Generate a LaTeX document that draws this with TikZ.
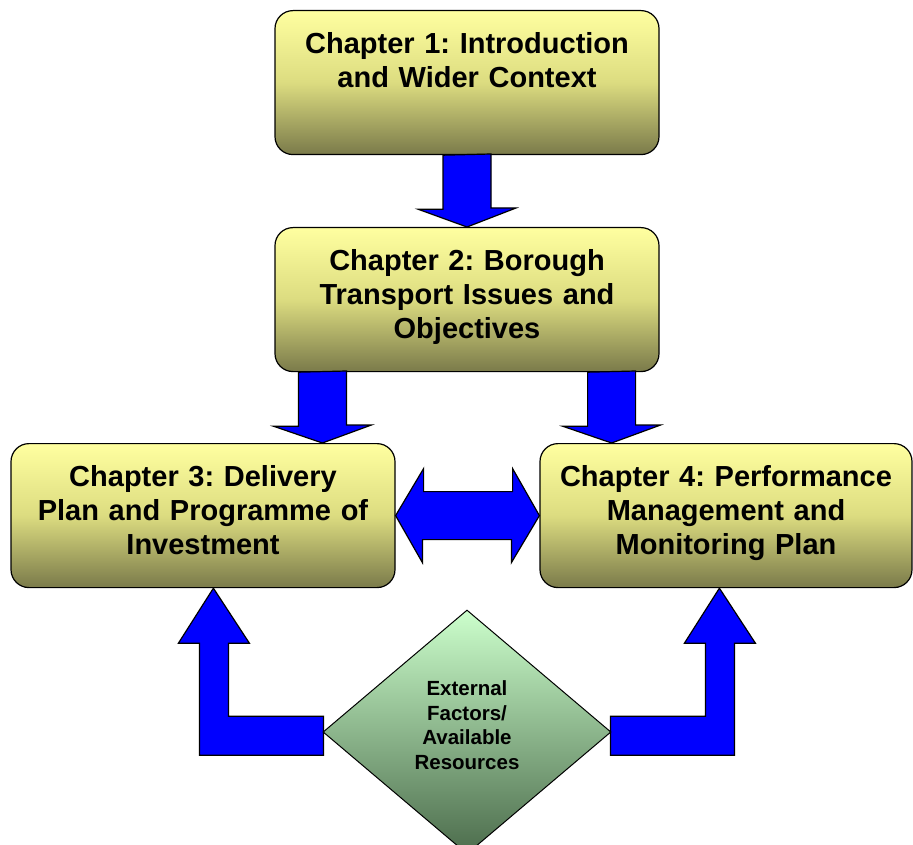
\documentclass[tikz,border=0pt]{standalone}
\usepackage{fontspec}
\setmainfont{Liberation Sans}
\usetikzlibrary{shapes.geometric,calc}
\definecolor{boxtop}{RGB}{255,255,160}
\definecolor{boxmid}{RGB}{220,220,128}
\definecolor{boxbot}{RGB}{122,122,74}
\definecolor{dgtop}{RGB}{204,255,204}
\definecolor{dgbot}{RGB}{76,108,76}
\frenchspacing
\begin{document}
\begin{tikzpicture}[x=1pt,y=-1pt,
        chapter/.style={draw=black,line width=1.2pt,rounded corners=18pt,
            top color=boxtop,bottom color=boxbot,middle color=boxmid,
            anchor=north,align=center,inner sep=0pt,
            text height=43pt,text depth=101pt,
            font=\fontsize{29}{34}\selectfont\bfseries},
        factor/.style={diamond,draw=black,line width=1pt,
            top color=dgtop,bottom color=dgbot,inner sep=0pt,
            minimum width=288pt,minimum height=244pt,align=center,
            text width=130pt,text height=20pt,text depth=93pt,
            font=\fontsize{20.5}{24.5}\selectfont\bfseries},
        blockarrow/.style={draw=black,line width=1.2pt,fill=blue,
            line join=miter}]
    \useasboundingbox (0,0) rectangle (913,845);
    \node[chapter,text width=384pt] (ch1) at (467,10)
        {Chapter 1: Introduction\\and Wider Context};
    \node[chapter,text width=384pt] (ch2) at (467,227)
        {Chapter 2: Borough\\Transport Issues and\\Objectives};
    \node[chapter,text width=384pt] (ch3) at (203,443)
        {Chapter 3: Delivery\\Plan and Programme of\\Investment};
    \node[chapter,text width=372pt] (ch4) at (726,443)
        {Chapter 4: Performance\\Management and\\Monitoring Plan};

    \coordinate (a2l) at ($(ch2.south west)+(48,0)$);
    \coordinate (a2r) at ($(ch2.south east)+(-48,0)$);
    \coordinate (ltip) at ($(ch3.south west)+(203,0)$);
    \coordinate (rtip) at ($(ch4.south west)+(180,0)$);

    \draw[blockarrow] (ch1.south) ++(-24,0) -- ++(0,54) -- ++(-25,0)
        -- (ch2.north) -- ++(49,-19) -- ++(-25,0) -- ++(0,-54) -- cycle;
    \draw[blockarrow] (a2l) ++(-24,0) -- ++(0,54) -- ++(-25,0)
        -- (a2l |- ch3.north) -- ++(49,-18) -- ++(-25,0) -- ++(0,-54) -- cycle;
    \draw[blockarrow] (a2r) ++(-24,0) -- ++(0,54) -- ++(-25,0)
        -- (a2r |- ch4.north) -- ++(49,-18) -- ++(-25,0) -- ++(0,-54) -- cycle;
    \draw[blockarrow] (ch3.east) -- ++(28,-47) -- ++(0,23) -- ++(89,0)
        -- ++(0,-23) -- (ch4.west) -- ++(-28,47) -- ++(0,-23) -- ++(-89,0)
        -- ++(0,23) -- cycle;
    \draw[blockarrow] (ltip) -- ++(36,55) -- ++(-21,0) -- ++(0,73)
        -- ++(95,0) -- ++(0,39) -- ++(-124,0) -- ++(0,-112) -- ++(-21,0) -- cycle;
    \draw[blockarrow] (rtip) -- ++(-35,55) -- ++(21,0) -- ++(0,73)
        -- ++(-95,0) -- ++(0,39) -- ++(124,0) -- ++(0,-112) -- ++(21,0) -- cycle;

    \node[factor] (ext) at (467,732)
        {External\\Factors/\\Available\\Resources};
\end{tikzpicture}
\end{document}
